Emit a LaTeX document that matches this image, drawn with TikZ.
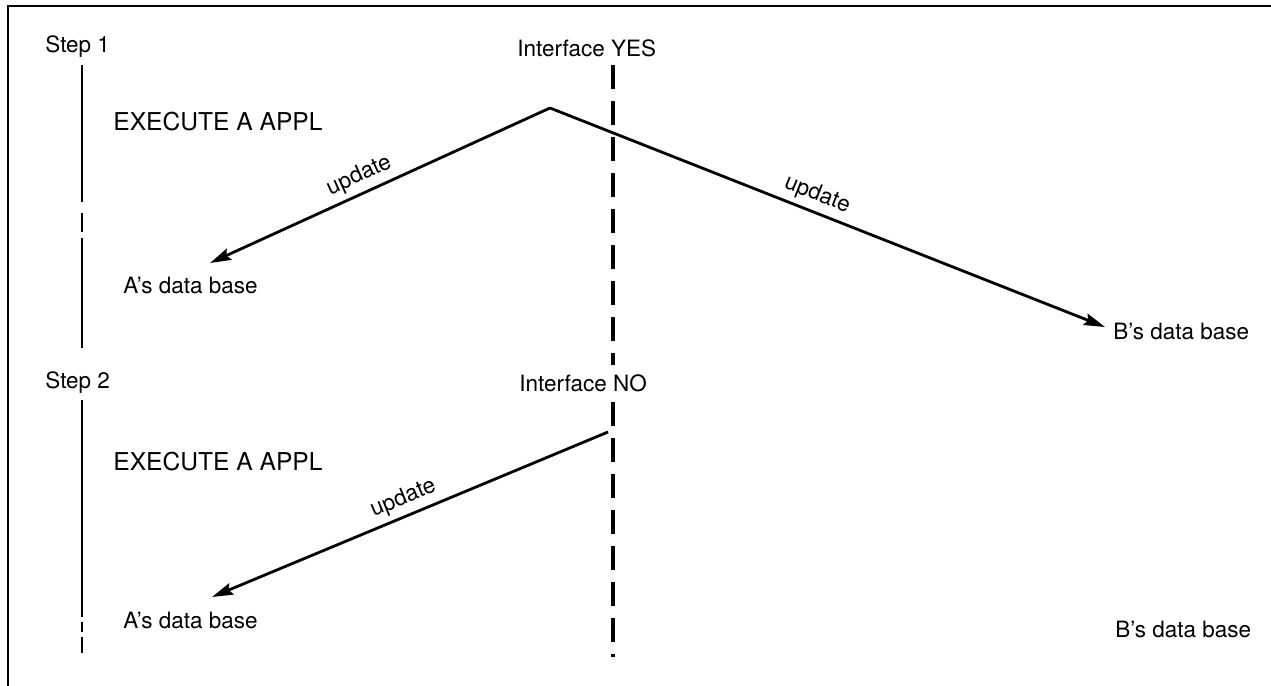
\documentclass[tikz,border=0pt]{standalone}
\usepackage{fontspec}
\setmainfont{TeX Gyre Heros}
\usetikzlibrary{positioning, arrows.meta}

\begin{document}
\begin{tikzpicture}[x=0.02cm, y=-0.02cm,
  txt/.style={anchor=west, inner sep=0pt, font=\fontsize{12.8}{15}\selectfont},
  bigtxt/.style={anchor=west, inner sep=0pt, font=\fontsize{14}{17}\selectfont},
  frame/.style={line width=1.7pt},
  timeline/.style={line width=1.7pt},
  iface/.style={line width=2.2pt, dash pattern=on 0.48cm off 0.24cm},
  flow/.style={line width=1.6pt, -{Stealth[length=0.42cm, width=0.24cm, inset=0.06cm]}},
  upd/.style={sloped, above, inner sep=3pt, font=\fontsize{12.8}{15}\selectfont}]
  \useasboundingbox (0,0) rectangle (1271,686);

  % frame
  \draw [frame] (1271,6) -- (8,6) -- (8,686);

  % step 1
  \node [txt] (step1) at (45,47) {Step 1};
  \node [bigtxt] (exec1) at (113,122) {EXECUTE A APPL};
  \node [txt] (ifyes) at (517,48) {Interface YES};
  \node [txt] (adb1) at (123,285) {A’s data base};
  \node [txt] (bdb1) at (1113,331) {B’s data base};
  \coordinate (peak) at (550,108);

  % step 2
  \node [txt] (step2) at (45,383) {Step 2};
  \node [bigtxt] (exec2) at (113,462) {EXECUTE A APPL};
  \node [txt] (ifno) at (519,383) {Interface NO};
  \node [txt] (adb2) at (123,620) {A’s data base};
  \node [txt] (bdb2) at (1115,629) {B’s data base};
  \coordinate (start2) at (608,432);

  % time lines
  \draw [timeline] (82,65) -- (82,202) (82,213) -- (82,232) (82,238) -- (82,348);
  \draw [timeline] (82,400) -- (82,617) (82,622) -- (82,632) (82,637) -- (82,653);

  % interface
  \draw [iface] (613,65) -- (613,365);
  \draw [iface] (613,402) -- (613,657);

  % updates
  \draw [flow] (peak) -- node [upd, pos=0.54] (upd1) {update} ([shift={(87,-22)}]adb1.west);
  \draw [flow] (peak) -- node [upd, pos=0.47] (upd2) {update} ([shift={(-8,-4)}]bdb1.west);
  \draw [flow] (start2) -- node [upd, pos=0.5] (upd3) {update} ([shift={(89,-23)}]adb2.west);
\end{tikzpicture}
\end{document}
